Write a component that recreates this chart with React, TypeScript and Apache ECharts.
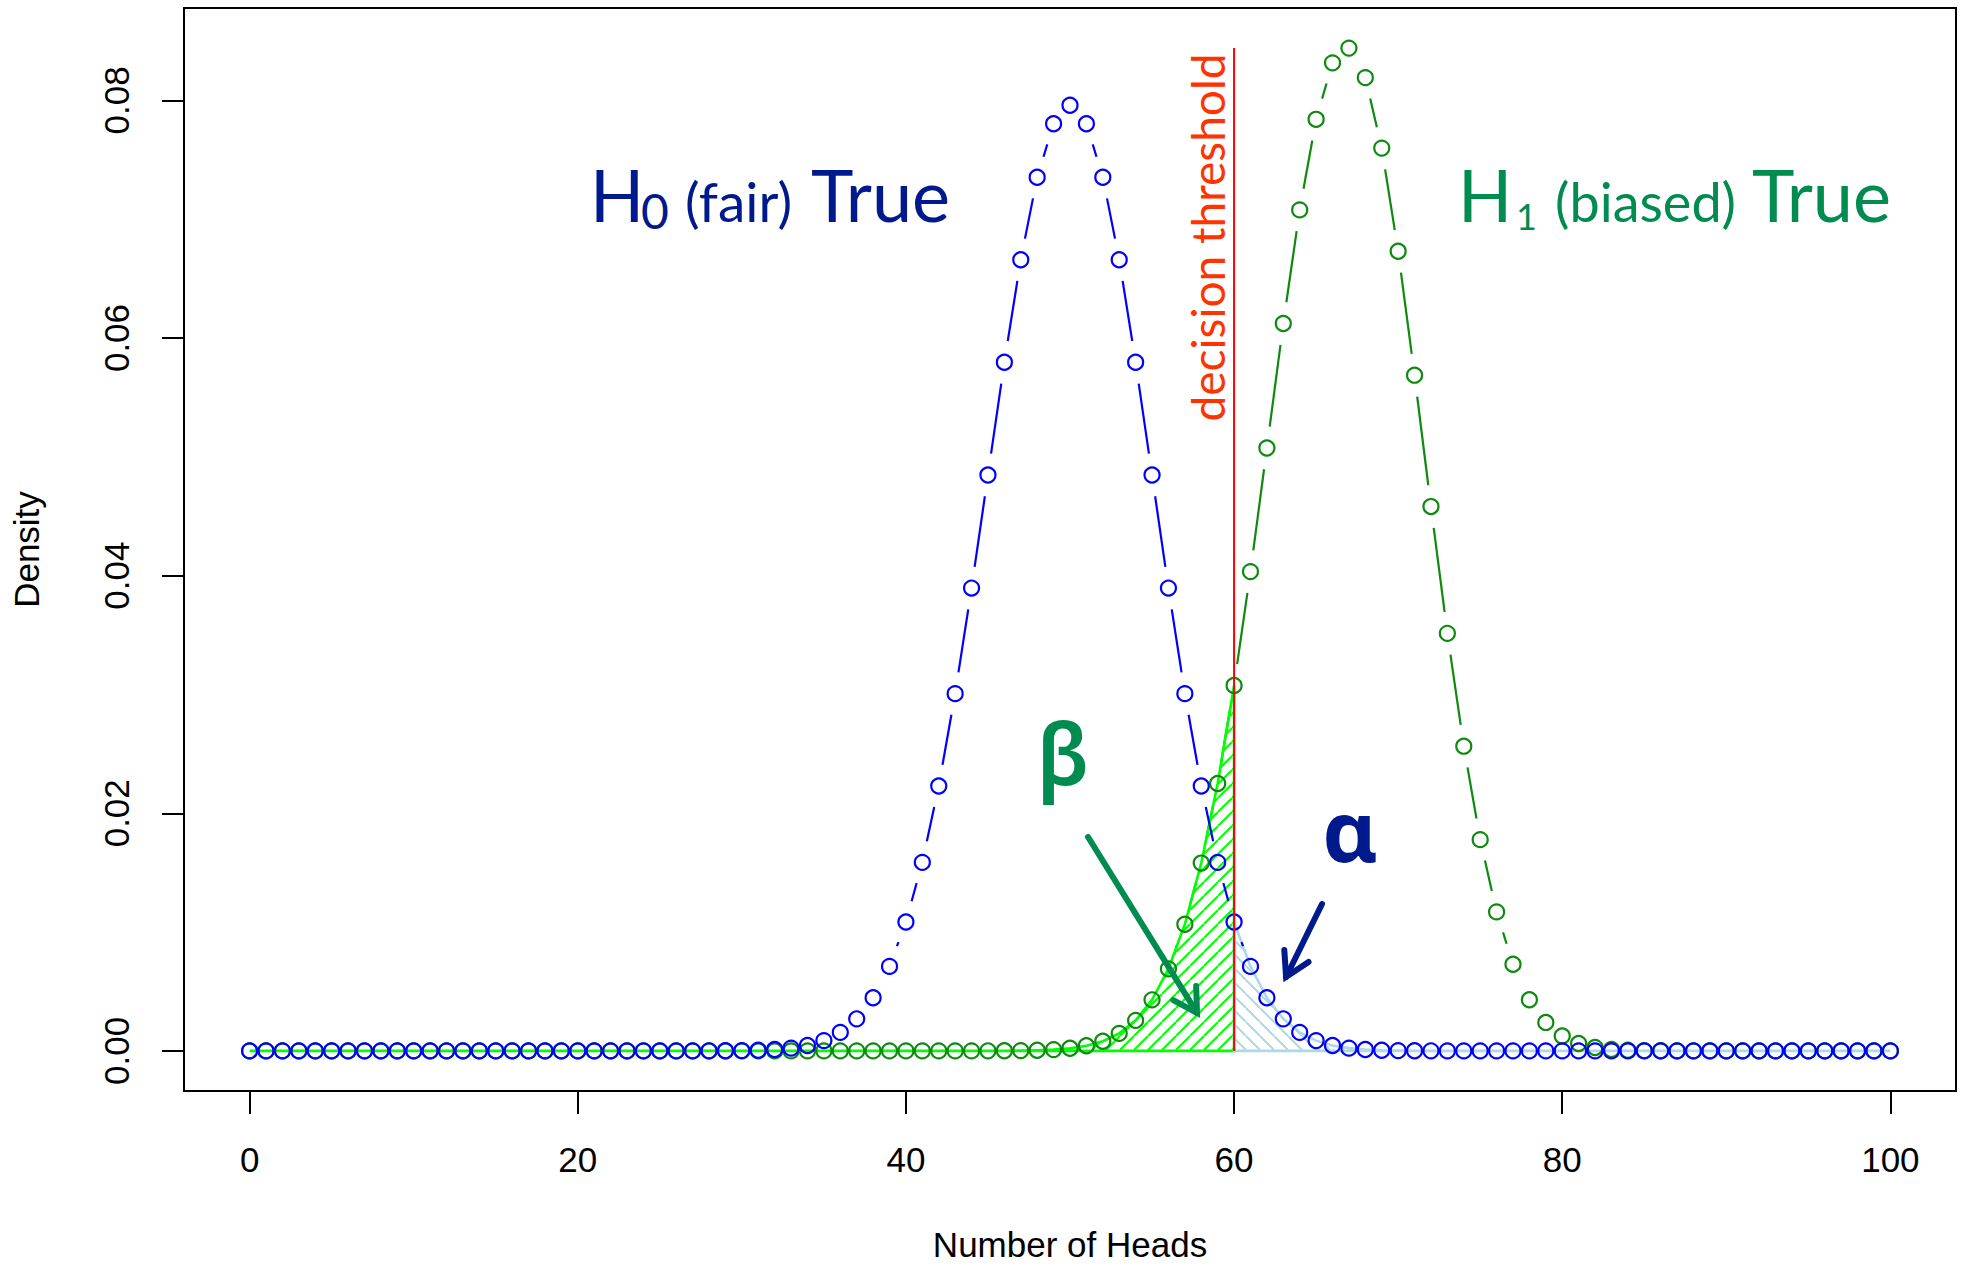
import React, { useEffect, useRef } from 'react';
import * as echarts from 'echarts';

// Number of heads in 100 tosses
const HEADS = [
  0, 1, 2, 3, 4, 5, 6, 7, 8, 9, 10, 11, 12, 13, 14, 15, 16, 17, 18, 19, 20,
  21, 22, 23, 24, 25, 26, 27, 28, 29, 30, 31, 32, 33, 34, 35, 36, 37, 38, 39, 40,
  41, 42, 43, 44, 45, 46, 47, 48, 49, 50, 51, 52, 53, 54, 55, 56, 57, 58, 59, 60,
  61, 62, 63, 64, 65, 66, 67, 68, 69, 70, 71, 72, 73, 74, 75, 76, 77, 78, 79, 80,
  81, 82, 83, 84, 85, 86, 87, 88, 89, 90, 91, 92, 93, 94, 95, 96, 97, 98, 99, 100,
];

// H0 (fair coin) density
const DENSITY_FAIR = [
  0, 0, 0, 0, 0, 0, 0, 0, 0, 0, 0, 0, 0, 0, 0, 0, 0, 0, 0, 0,
  0, 0, 0, 0, 0, 0, 0, 0, 0.000004, 0.00001, 0.000023, 0.000052, 0.000113, 0.000232, 0.000458, 0.000864,
  0.00156, 0.002698, 0.004472, 0.007111, 0.010844, 0.015869, 0.022292, 0.030069, 0.038953, 0.048474,
  0.057958, 0.06659, 0.073527, 0.078029, 0.079589, 0.078029, 0.073527, 0.06659, 0.057958, 0.048474,
  0.038953, 0.030069, 0.022292, 0.015869, 0.010844, 0.007111, 0.004472, 0.002698, 0.00156, 0.000864,
  0.000458, 0.000232, 0.000113, 0.000052, 0.000023, 0.00001, 0.000004, 0, 0, 0, 0, 0, 0, 0, 0,
  0, 0, 0, 0, 0, 0, 0, 0, 0, 0, 0, 0, 0, 0, 0, 0, 0, 0, 0, 0,
];

// H1 (biased coin) density
const DENSITY_BIASED = [
  0, 0, 0, 0, 0, 0, 0, 0, 0, 0, 0, 0, 0, 0, 0, 0, 0, 0, 0, 0,
  0, 0, 0, 0, 0, 0, 0, 0, 0, 0, 0, 0, 0, 0, 0, 0, 0, 0, 0, 0,
  0, 0, 0, 0, 0, 0.000004, 0.00001, 0.000023, 0.000051, 0.000108,
  0.00022, 0.000432, 0.000815, 0.001476, 0.002569, 0.004297, 0.006906, 0.010661, 0.015808, 0.022506,
  0.030758, 0.040338, 0.050747, 0.061219, 0.070784, 0.078407, 0.083159, 0.0844, 0.081918, 0.075983,
  0.067299, 0.056872, 0.045813, 0.035144, 0.025646, 0.017781, 0.011698, 0.007292, 0.0043, 0.002395,
  0.001257, 0.000621, 0.000288, 0.000125, 0.000051, 0.000019, 0.000007, 0, 0, 0,
  0, 0, 0, 0, 0, 0, 0, 0, 0, 0, 0,
];

const THRESHOLD = 60;
const X_TICKS = [0, 20, 40, 60, 80, 100];
const Y_TICKS = [0, 0.02, 0.04, 0.06, 0.08];

const BLUE = '#0000FF';
const DARK_GREEN = '#0E8A0E';
const POLY_GREEN = '#00FF00';
const POLY_BLUE = '#ADD8E6';
const NAVY = '#00198C';
const TEAL_GREEN = '#008C50';
const ORANGE_RED = '#FF3300';

// Annotation anchors in data coordinates
const H0_POS = [20.75, 0.06977];
const H1_POS = [73.65, 0.06977];
const THRESH_TEXT_POS = [58.41, 0.06846];
const BETA_POS = [49.58, 0.02239];
const ALPHA_POS = [67.07, 0.0159];
const BETA_ARROW = [[51.1, 0.018], [57.74, 0.0032]];
const ALPHA_ARROW = [[65.36, 0.01236], [63.17, 0.00622]];

const GAP = 21.5;

function hatch(color: string, dir: string) {
  const s = 14;
  const c = document.createElement('canvas');
  c.width = s;
  c.height = s;
  const g = c.getContext('2d')!;
  g.strokeStyle = color;
  g.lineWidth = 2;
  g.beginPath();
  for (const x0 of [-s, 0, s]) {
    if (dir === '/') {
      g.moveTo(x0, s);
      g.lineTo(x0 + s, 0);
    } else {
      g.moveTo(x0, 0);
      g.lineTo(x0 + s, s);
    }
  }
  g.stroke();
  return c;
}

function segmentSeries(ys: number[], color: string) {
  return {
    type: 'custom',
    silent: true,
    data: HEADS.map((x, i) => [x, ys[i]]),
    encode: { x: 0, y: 1 },
    renderItem: (params: any, api: any) => {
      const i = params.dataIndex;
      if (i === 0) return null;
      const a = api.coord([HEADS[i - 1], ys[i - 1]]);
      const b = api.coord([HEADS[i], ys[i]]);
      const dx = b[0] - a[0];
      const dy = b[1] - a[1];
      const d = Math.hypot(dx, dy);
      if (d <= 2 * GAP) return null;
      const ux = dx / d;
      const uy = dy / d;
      return {
        type: 'line',
        shape: { x1: a[0] + ux * GAP, y1: a[1] + uy * GAP, x2: b[0] - ux * GAP, y2: b[1] - uy * GAP },
        style: { stroke: color, lineWidth: 2.2, fill: null },
      };
    },
  };
}

function circleSeries(ys: number[], color: string) {
  return {
    type: 'scatter',
    silent: true,
    symbol: 'circle',
    symbolSize: 15,
    data: HEADS.map((x, i) => [x, ys[i]]),
    itemStyle: { color: 'rgba(0,0,0,0)', borderColor: color, borderWidth: 2.2, opacity: 1 },
  };
}

function polygonSeries(points: number[][], stroke: string, pattern: HTMLCanvasElement) {
  return {
    type: 'custom',
    silent: true,
    data: points,
    encode: { x: 0, y: 1 },
    renderItem: (params: any, api: any) => {
      if (params.dataIndex !== 0) return null;
      const pts = points.map((p) => api.coord(p));
      return {
        type: 'polygon',
        shape: { points: pts },
        style: { fill: { image: pattern, repeat: 'repeat' }, stroke, lineWidth: 2.6 },
      };
    },
  };
}

export default function App() {
  const ref = useRef<HTMLDivElement>(null);

  useEffect(() => {
    if (!ref.current) return;
    const chart = echarts.init(ref.current, null, { renderer: 'svg' });

    const tIdx = HEADS.indexOf(THRESHOLD);
    const greenPoly = HEADS.slice(0, tIdx + 1).map((x, i) => [x, DENSITY_BIASED[i]]);
    greenPoly.push([THRESHOLD, 0], [HEADS[0], 0]);
    const bluePoly = HEADS.slice(tIdx).map((x, i) => [x, DENSITY_FAIR[tIdx + i]]);
    bluePoly.push([HEADS[HEADS.length - 1], 0], [THRESHOLD, 0]);
    const peak = Math.max(...DENSITY_BIASED);

    const axisFont = 'Liberation Sans, Arial, Helvetica, sans-serif';

    chart.setOption({
      animation: false,
      backgroundColor: '#ffffff',
      grid: {
        left: 184,
        top: 8,
        width: 1772,
        height: 1083,
        show: true,
        borderColor: '#000',
        borderWidth: 2,
        backgroundColor: 'transparent',
        containLabel: false,
        outerBoundsMode: 'none',
      },
      xAxis: {
        type: 'value',
        min: -4,
        max: 104,
        axisLine: { show: false, onZero: false },
        splitLine: { show: false },
        axisTick: { show: true, length: 23, customValues: X_TICKS, lineStyle: { color: '#000', width: 2 } },
        axisLabel: { customValues: X_TICKS, fontSize: 35, color: '#000', fontFamily: axisFont, margin: 51 },
        name: 'Number of Heads',
        nameLocation: 'middle',
        nameGap: 136,
        nameTextStyle: { fontSize: 35, color: '#000', fontFamily: axisFont },
      },
      yAxis: {
        type: 'value',
        min: -0.003376,
        max: 0.087776,
        axisLine: { show: false, onZero: false },
        splitLine: { show: false },
        axisTick: { show: true, length: 22, customValues: Y_TICKS, lineStyle: { color: '#000', width: 2 } },
        axisLabel: {
          customValues: Y_TICKS,
          rotate: 90,
          fontSize: 35,
          color: '#000',
          fontFamily: axisFont,
          margin: 50,
          formatter: (v: number) => v.toFixed(2),
        },
        name: 'Density',
        nameLocation: 'middle',
        nameGap: 140,
        nameRotate: 90,
        nameTextStyle: { fontSize: 35, color: '#000', fontFamily: axisFont },
      },
      series: [
        segmentSeries(DENSITY_BIASED, DARK_GREEN),
        circleSeries(DENSITY_BIASED, DARK_GREEN),
        {
          type: 'line',
          silent: true,
          symbol: 'none',
          data: [[THRESHOLD, 0], [THRESHOLD, peak]],
          lineStyle: { color: '#FF0000', width: 2 },
        },
        polygonSeries(greenPoly, POLY_GREEN, hatch(POLY_GREEN, '/')),
        polygonSeries(bluePoly, POLY_BLUE, hatch(POLY_BLUE, '\\')),
        segmentSeries(DENSITY_FAIR, BLUE),
        circleSeries(DENSITY_FAIR, BLUE),
      ],
    });

    const px = (p: number[]) => chart.convertToPixel({ gridIndex: 0 }, p) as number[];
    const textEl = (
      x: number, y: number, text: string, size: number, family: string, fill: string,
      align = 'left', rotation = 0, weight = 'normal',
    ) => ({
      type: 'text',
      x,
      y,
      rotation,
      z: 100,
      silent: true,
      style: {
        text,
        fill,
        font: `${weight} ${size}px ${family}`,
        fontSize: size,
        fontFamily: family,
        fontWeight: weight,
        align,
        textAlign: align,
        verticalAlign: 'middle',
        textVerticalAlign: 'middle',
      },
    });
    const C = 0.387;
    const lato = 'Lato';
    const greek = 'Noto Sans';

    const h0 = px(H0_POS);
    const h1 = px(H1_POS);
    const th = px(THRESH_TEXT_POS);
    const be = px(BETA_POS);
    const al = px(ALPHA_POS);

    const pieces = (anchor: number[], list: any[], color: string) =>
      list.map((p) => textEl(anchor[0] + p.dx, anchor[1] + p.dy - C * p.f, p.t, p.f, lato, color));

    const arrow = (pts: number[][], color: string) => {
      const a = px(pts[0]);
      const b = px(pts[1]);
      const ang = Math.atan2(a[1] - b[1], a[0] - b[0]);
      const L = 27;
      const w1 = [b[0] + L * Math.cos(ang + Math.PI / 6), b[1] + L * Math.sin(ang + Math.PI / 6)];
      const w2 = [b[0] + L * Math.cos(ang - Math.PI / 6), b[1] + L * Math.sin(ang - Math.PI / 6)];
      return [
        {
          type: 'polyline', z: 100, silent: true,
          shape: { points: [a, b] },
          style: { stroke: color, lineWidth: 6, fill: null, lineCap: 'round' },
        },
        {
          type: 'polyline', z: 100, silent: true,
          shape: { points: [w1, b, w2] },
          style: { stroke: color, lineWidth: 6, fill: null, lineCap: 'round', lineJoin: 'miter' },
        },
      ];
    };

    chart.setOption({
      graphic: [
        ...pieces(h0, [
          { t: 'H', dx: 0, dy: 0, f: 71 },
          { t: '0', dx: 51, dy: 7, f: 48 },
          { t: '(fair)', dx: 95, dy: 0, f: 55 },
          { t: 'True', dx: 221, dy: 0, f: 72 },
        ], NAVY),
        ...pieces(h1, [
          { t: 'H', dx: 0, dy: 0, f: 71 },
          { t: '1', dx: 58, dy: 8, f: 36 },
          { t: '(biased)', dx: 97, dy: 0, f: 54 },
          { t: 'True', dx: 294, dy: 0, f: 72 },
        ], TEAL_GREEN),
        textEl(th[0], th[1], 'decision threshold', 46, lato, ORANGE_RED, 'center', Math.PI / 2),
        textEl(be[0], be[1] - 0.388 * 85, 'β', 85, greek, TEAL_GREEN, 'center', 0, '600'),
        textEl(al[0], al[1] - 0.388 * 85, 'α', 85, greek, NAVY, 'center', 0, 'bold'),
        ...arrow(BETA_ARROW, TEAL_GREEN),
        ...arrow(ALPHA_ARROW, NAVY),
      ],
    });

    return () => chart.dispose();
  }, []);

  return (
    <div
      ref={ref}
      style={{ position: 'fixed', left: 0, top: 0, width: 1965, height: 1267, background: '#fff' }}
    />
  );
}
